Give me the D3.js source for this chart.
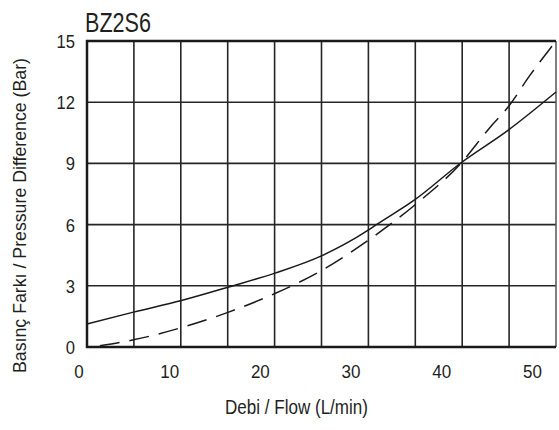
<!DOCTYPE html>
<html>
<head>
<meta charset="utf-8">
<script src="https://cdn.jsdelivr.net/npm/d3@7"></script>
<style>
  body { margin: 0; background: #fff; }
  text { font-family: "Liberation Sans", Arial, sans-serif; fill: #231f20; }
</style>
</head>
<body>
<svg id="chart"></svg>
<script>
// flow (L/min) and pressure difference (bar)
const solidFlow = [0.88, 6.0, 11.3, 16.5, 21.6, 26.8, 31.8, 32.8, 37.0, 42.1, 47.3, 52.6];
const solidBar  = [1.13, 1.71, 2.28, 2.94, 3.62, 4.48, 5.70, 6.0, 7.21, 9.02, 10.62, 12.5];

const dashFlow = [2.3, 6.0, 11.3, 16.5, 21.6, 26.8, 31.8, 37.0, 42.1, 45.3, 47.3, 49.7, 52.6];
const dashBar  = [0.06, 0.35, 0.95, 1.71, 2.62, 3.76, 5.2, 6.95, 9.0, 10.75, 11.75, 13.3, 15.0];

const xTicks = [0, 10, 20, 30, 40, 50];
const yTicks = [0, 3, 6, 9, 12, 15];

const title = "BZ2S6";
const xTitle = "Debi / Flow (L/min)";
const yTitle = "Basınç Farkı / Pressure Difference (Bar)";

const W = 559, H = 430;
const plotL = 87, plotR = 556, plotT = 41, plotB = 347;

const svg = d3.select("#chart").attr("width", W).attr("height", H);

// axis labels sit a bit left of the frame, like in the scan
const x = d3.scaleLinear().domain([0, 52.6]).range([79, plotR]);
const y = d3.scaleLinear().domain([0, 15]).range([plotB, plotT]);

// the grid is just ten even columns over the frame
const gx = d3.scaleLinear().domain([0, 10]).range([plotL, plotR]);

const grid = svg.append("g").attr("stroke", "#262626").attr("stroke-width", 1.6);
grid.selectAll("line.v").data(d3.range(1, 10)).enter().append("line")
    .attr("x1", d => gx(d)).attr("x2", d => gx(d))
    .attr("y1", plotT).attr("y2", plotB);
grid.selectAll("line.h").data(yTicks.slice(1, -1)).enter().append("line")
    .attr("x1", plotL).attr("x2", plotR)
    .attr("y1", d => y(d)).attr("y2", d => y(d));

// frame
svg.append("line").attr("x1", plotR).attr("x2", plotR).attr("y1", plotT).attr("y2", plotB)
    .attr("stroke", "#555").attr("stroke-width", 1.5);
svg.append("path")
    .attr("d", `M${plotR},${plotT}H${plotL}V${plotB}H${plotR}`)
    .attr("fill", "none").attr("stroke", "#1a1a1a").attr("stroke-width", 2.5);

// tick labels (narrow type, so squeeze a little)
svg.selectAll("text.xt").data(xTicks).enter().append("text")
    .attr("transform", d => `translate(${x(d)},378) scale(0.92,1)`)
    .attr("text-anchor", "middle").attr("font-size", 18.5)
    .text(d => d);
svg.selectAll("text.yt").data(yTicks).enter().append("text")
    .attr("transform", d => `translate(75,${y(d) + 7}) scale(0.95,1)`)
    .attr("text-anchor", "end").attr("font-size", 17.5)
    .text(d => d);

// curves
const line = d3.line().x(d => x(d[0])).y(d => y(d[1])).curve(d3.curveMonotoneX);

svg.append("path")
    .datum(d3.zip(solidFlow, solidBar))
    .attr("fill", "none").attr("stroke", "#1a1a1a").attr("stroke-width", 1.5)
    .attr("d", line);

svg.append("path")
    .datum(d3.zip(dashFlow, dashBar))
    .attr("fill", "none").attr("stroke", "#1a1a1a").attr("stroke-width", 1.5)
    .attr("stroke-dasharray", "20,10")
    .attr("d", line);

// titles
svg.append("text").attr("x", 85).attr("y", 31.5).attr("font-size", 27)
    .attr("textLength", 66).attr("lengthAdjust", "spacingAndGlyphs").text(title);
svg.append("text").attr("x", 225).attr("y", 414)
    .attr("font-size", 20.5)
    .attr("textLength", 143).attr("lengthAdjust", "spacingAndGlyphs").text(xTitle);
svg.append("text").attr("transform", "translate(25.5,373) rotate(-90)")
    .attr("font-size", 18.5)
    .attr("textLength", 315).attr("lengthAdjust", "spacingAndGlyphs").text(yTitle);
</script>
</body>
</html>
